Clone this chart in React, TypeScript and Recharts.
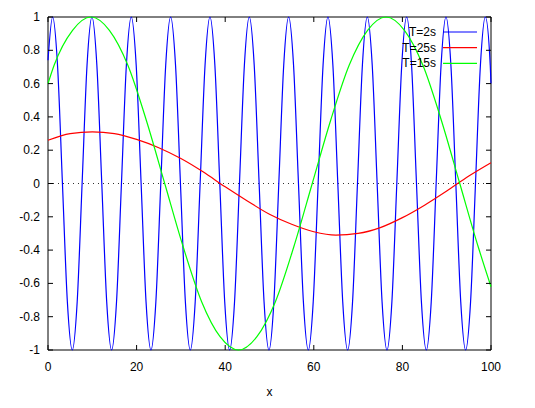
import { LineChart, Line, XAxis, YAxis, ReferenceLine, ReferenceArea } from 'recharts'

const xTicks = [0, 20, 40, 60, 80, 100]
const yTicks = [-1, -0.8, -0.6, -0.4, -0.2, 0, 0.2, 0.4, 0.6, 0.8, 1]

// T=2s (blue)
const blueX = [
  0, 1.04, 2.15, 3.26, 4.37, 5.48, 6.59, 7.7, 8.81,
  9.92, 11.03, 12.14, 13.25, 14.36, 15.47, 16.58, 17.69,
  18.8, 19.91, 21.02, 22.13, 23.24, 24.35, 25.46, 26.57,
  27.68, 28.79, 29.9, 31.01, 32.12, 33.23, 34.34, 35.45,
  36.56, 37.67, 38.78, 39.89, 41.0, 42.11, 43.22, 44.33,
  45.44, 46.55, 47.66, 48.77, 49.88, 50.99, 52.1, 53.21,
  54.32, 55.43, 56.54, 57.65, 58.76, 59.87, 60.98, 62.09,
  63.2, 64.31, 65.42, 66.53, 67.64, 68.75, 69.86, 70.97,
  72.08, 73.19, 74.3, 75.41, 76.52, 77.63, 78.74, 79.85,
  80.96, 82.07, 83.18, 84.29, 85.4, 86.51, 87.62, 88.73,
  89.84, 90.95, 92.06, 93.17, 94.28, 95.39, 96.5, 97.61,
  98.72, 99.83, 100,
]
const blueY = [
  0.74, 1, 0.71, 0, -0.71, -1, -0.71, 0, 0.71,
  1, 0.71, 0, -0.71, -1, -0.71, 0, 0.71,
  1, 0.71, 0, -0.71, -1, -0.71, 0, 0.71,
  1, 0.71, 0, -0.71, -1, -0.71, 0, 0.71,
  1, 0.71, 0, -0.71, -1, -0.71, 0, 0.71,
  1, 0.71, 0, -0.71, -1, -0.71, 0, 0.71,
  1, 0.71, 0, -0.71, -1, -0.71, 0, 0.71,
  1, 0.71, 0, -0.71, -1, -0.71, 0, 0.71,
  1, 0.71, 0, -0.71, -1, -0.71, 0, 0.71,
  1, 0.71, 0, -0.71, -1, -0.71, 0, 0.71,
  1, 0.71, 0, -0.71, -1, -0.71, 0, 0.71,
  1, 0.71, 0.6,
]

// T=25s (red)
const redX = [0, 5, 10, 15, 20, 25, 30, 35, 40, 45, 50, 55, 60, 65, 70, 75, 80, 85, 90, 95, 100]
const redY = [0.26, 0.3, 0.31, 0.3, 0.265, 0.215, 0.15, 0.07, -0.02, -0.105, -0.185, -0.245, -0.29, -0.31, -0.3, -0.265, -0.205, -0.13, -0.045, 0.045, 0.125]

// T=15s (green)
const greenX = [0, 1.38, 5.54, 9.7, 13.86, 18.03, 22.19, 26.35, 30.51, 34.68, 38.84, 43.0, 47.16, 51.33, 55.49, 59.65, 63.81, 67.98, 72.14, 76.3, 80.46, 84.63, 88.79, 92.95, 97.11, 100]
const greenY = [0.6, 0.71, 0.92, 1, 0.92, 0.71, 0.38, 0, -0.38, -0.71, -0.92, -1, -0.92, -0.71, -0.38, 0, 0.38, 0.71, 0.92, 1, 0.92, 0.71, 0.38, 0, -0.38, -0.62]

const toPoints = (xs: number[], ys: number[]) => xs.map((x, i) => ({ x, y: ys[i] }))

const series = [
  { name: 'T=2s', color: '#0000ff', data: toPoints(blueX, blueY) },
  { name: 'T=25s', color: '#ff0000', data: toPoints(redX, redY) },
  { name: 'T=15s', color: '#00ff00', data: toPoints(greenX, greenY) },
]

const W = 535
const H = 408
const Y_AXIS_W = 48
const X_AXIS_H = 58
const margin = { top: 17, right: 44, bottom: 0, left: 0 }
const plotTop = margin.top
const plotRight = W - margin.right
const TICK = 5
const FONT = '"Liberation Sans", Arial, sans-serif'

const XTick = (props: any) => {
  const { x, y, payload } = props
  return (
    <g>
      <line x1={x} x2={x} y1={y} y2={y - TICK} stroke='#000' />
      <line x1={x} x2={x} y1={plotTop} y2={plotTop + TICK} stroke='#000' />
      <text x={x} y={y + 21} textAnchor='middle' fill='#000' fontSize={12} fontFamily={FONT}>
        {payload.value}
      </text>
    </g>
  )
}

const YTick = (props: any) => {
  const { x, y, payload } = props
  return (
    <g>
      <line x1={x} x2={x + TICK} y1={y} y2={y} stroke='#000' />
      <line x1={plotRight} x2={plotRight - TICK} y1={y} y2={y} stroke='#000' />
      <text x={x - 8} y={y} dy={4} textAnchor='end' fill='#000' fontSize={12} fontFamily={FONT}>
        {payload.value}
      </text>
    </g>
  )
}

const App = () => {
  return (
    <div style={{ position: 'absolute', left: 0, top: 0, width: W, height: H, background: '#fff', fontFamily: FONT }}>
      <LineChart width={W} height={H} margin={margin}>
        <XAxis
          dataKey='x'
          type='number'
          domain={[0, 100]}
          ticks={xTicks}
          interval={0}
          height={X_AXIS_H}
          tickSize={0}
          tickMargin={0}
          tickLine={false}
          axisLine={false}
          tick={<XTick />}
          label={{ value: 'x', position: 'insideBottom', offset: 12, fill: '#000', fontSize: 12 }}
        />
        <YAxis
          type='number'
          domain={[-1, 1]}
          ticks={yTicks}
          interval={0}
          width={Y_AXIS_W}
          tickSize={0}
          tickMargin={0}
          tickLine={false}
          axisLine={false}
          tick={<YTick />}
        />
        <ReferenceLine y={0} stroke='#333' strokeDasharray='1 4' />
        {series.map((s) => (
          <Line
            key={s.name}
            data={s.data}
            dataKey='y'
            name={s.name}
            type='monotone'
            stroke={s.color}
            strokeWidth={1.2}
            dot={false}
            activeDot={false}
            isAnimationActive={false}
          />
        ))}
        <ReferenceArea x1={0} x2={100} y1={-1} y2={1} fill='none' fillOpacity={0} stroke='#000' strokeWidth={1} />
      </LineChart>
      <svg width={W} height={H} style={{ position: 'absolute', left: 0, top: 0, pointerEvents: 'none' }}>
        {series.map((s, i) => {
          const cy = 32 + i * 15.7
          return (
            <g key={s.name}>
              <text x={436} y={cy} dy={4} textAnchor='end' fill='#000' fontSize={12} fontFamily={FONT}>
                {s.name}
              </text>
              <line x1={443} x2={477} y1={cy} y2={cy} stroke={s.color} strokeWidth={1.2} />
            </g>
          )
        })}
      </svg>
    </div>
  )
}

export default App
